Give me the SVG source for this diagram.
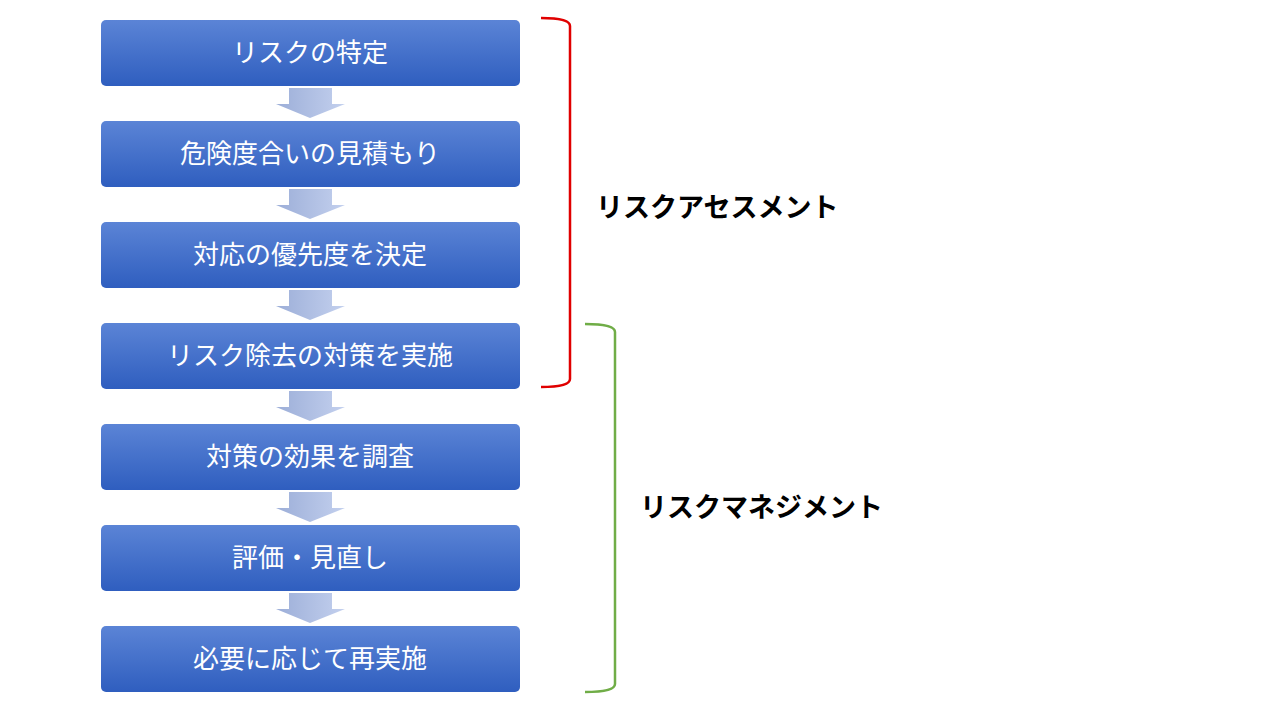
<svg xmlns="http://www.w3.org/2000/svg" width="1280" height="720" viewBox="0 0 1280 720">
<style>
.box{fill:url(#bg)}
.t{font-family:"Noto Sans CJK JP",sans-serif;font-size:26px;fill:#fff;text-anchor:middle}
.lb{font-family:"Noto Sans CJK JP",sans-serif;font-size:27px;font-weight:bold;fill:#000}
.arr{fill:url(#ag)}
</style>
<defs>
<linearGradient id="bg" x1="0" y1="0" x2="0" y2="1"><stop offset="0" stop-color="#5b84d6"/><stop offset="1" stop-color="#2f5ebf"/></linearGradient>
<linearGradient id="ag" x1="0" y1="0" x2="1" y2="0"><stop offset="0" stop-color="#9caed8"/><stop offset="1" stop-color="#c3d0ee"/></linearGradient>
<path id="a" d="M289,0 H332 V16 H345 L310,30 L276,16 H289 Z"/>
</defs>
<rect width="1280" height="720" fill="#fff"/>
<g id="n1"><rect class="box" x="101" y="20" width="419" height="66" rx="5"/><text class="t" x="310" y="62">リスクの特定</text></g>
<g id="n2"><rect class="box" x="101" y="121" width="419" height="66" rx="5"/><text class="t" x="310" y="163">危険度合いの見積もり</text></g>
<g id="n3"><rect class="box" x="101" y="222" width="419" height="66" rx="5"/><text class="t" x="310" y="264">対応の優先度を決定</text></g>
<g id="n4"><rect class="box" x="101" y="323" width="419" height="66" rx="5"/><text class="t" x="310" y="365">リスク除去の対策を実施</text></g>
<g id="n5"><rect class="box" x="101" y="424" width="419" height="66" rx="5"/><text class="t" x="310" y="466">対策の効果を調査</text></g>
<g id="n6"><rect class="box" x="101" y="525" width="419" height="66" rx="5"/><text class="t" x="310" y="567">評価・見直し</text></g>
<g id="n7"><rect class="box" x="101" y="626" width="419" height="66" rx="5"/><text class="t" x="310" y="668">必要に応じて再実施</text></g>
<g id="connectors">
<use href="#a" class="arr" y="88"/>
<use href="#a" class="arr" y="189"/>
<use href="#a" class="arr" y="290"/>
<use href="#a" class="arr" y="391"/>
<use href="#a" class="arr" y="492"/>
<use href="#a" class="arr" y="593"/>
<path d="M541,18 Q570,18 570,26 V379 Q570,387 541,387" fill="none" stroke="#e00000" stroke-width="2.5"/>
<path d="M585,324 Q615,324 615,332 V684 Q615,692 585,692" fill="none" stroke="#70ad47" stroke-width="2.5"/>
</g>
<text class="lb" x="596" y="217">リスクアセスメント</text>
<text class="lb" x="640" y="517">リスクマネジメント</text>
</svg>
